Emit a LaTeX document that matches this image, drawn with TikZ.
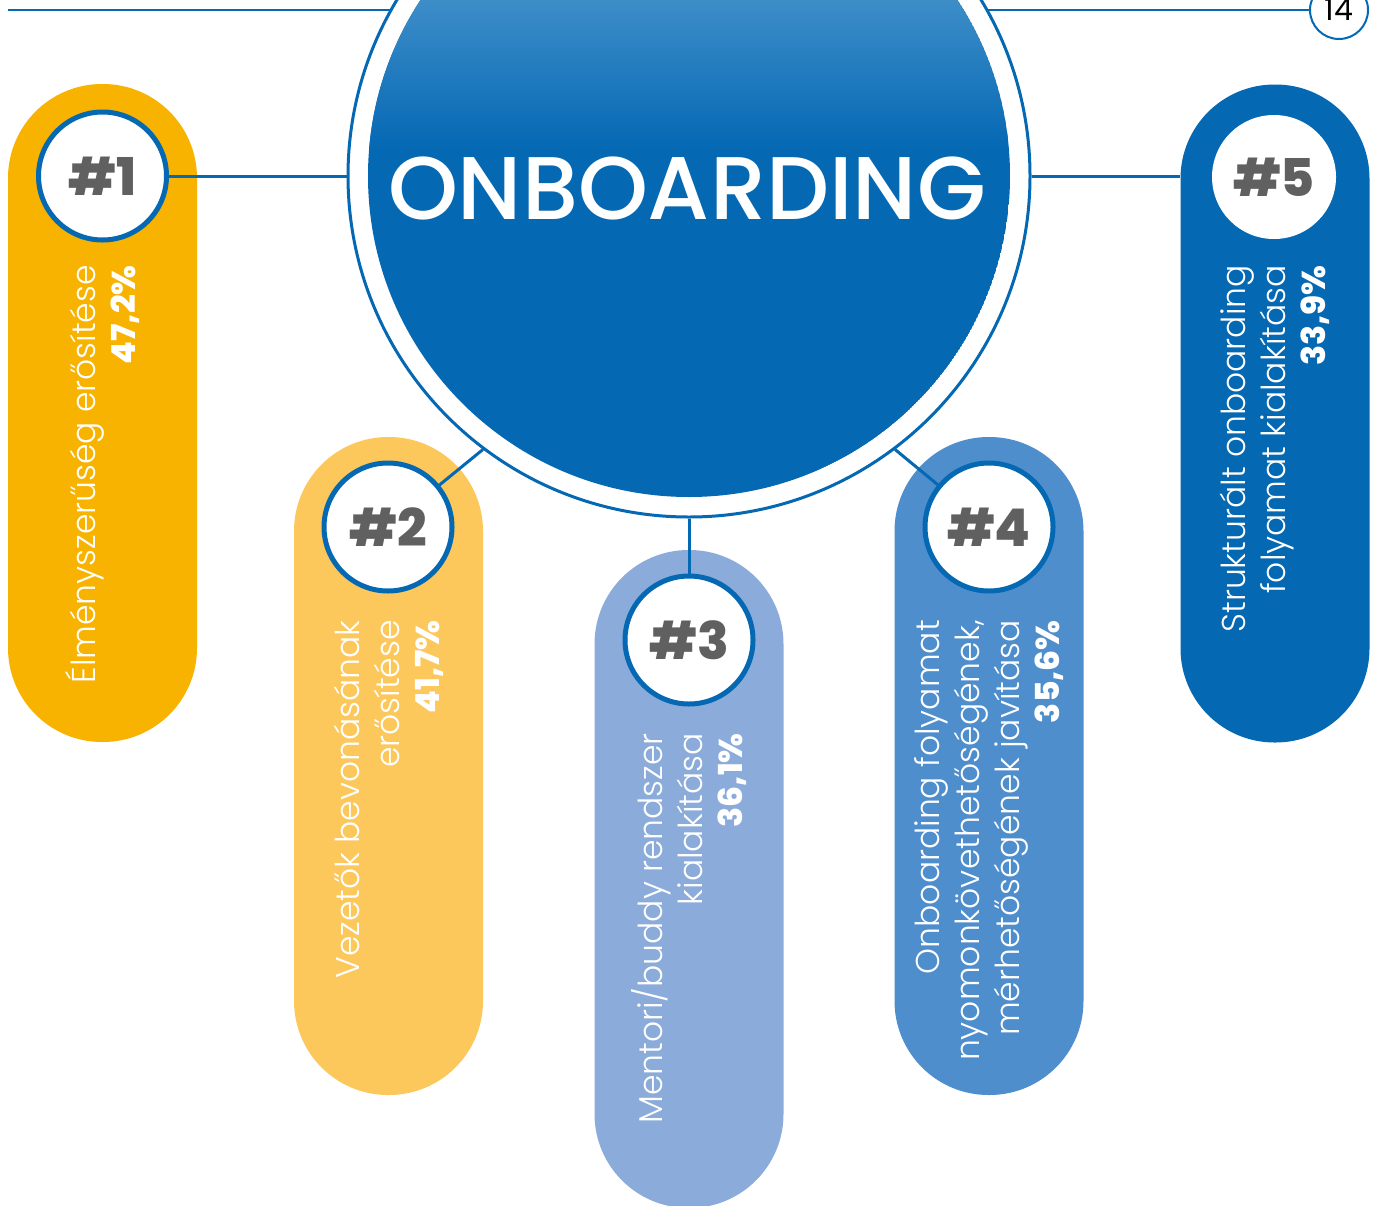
\documentclass[tikz,border=0pt]{standalone}
\usepackage{fontspec}
\setmainfont{Poppins}[UprightFont=* Light, BoldFont=* ExtraBold]
\newfontfamily\popmed{Poppins}[UprightFont=* Medium]
\newfontfamily\popreg{Poppins}
\newfontfamily\popxb{Poppins}[UprightFont=* ExtraBold]
\definecolor{mainblue}{HTML}{0468B3}
\definecolor{topblue}{HTML}{3D8DC8}
\definecolor{pillA}{HTML}{F8B300}
\definecolor{pillB}{HTML}{FDC85B}
\definecolor{pillC}{HTML}{8BACDA}
\definecolor{pillD}{HTML}{4F8ECC}
\definecolor{pillE}{HTML}{0468B3}
\definecolor{numgrey}{HTML}{606060}
\begin{document}
\begin{tikzpicture}[x=1pt,y=-1pt,
  conn/.style={draw=mainblue, line width=3pt},
  pill/.style={rectangle, rounded corners=94pt, minimum width=189pt,
    minimum height=658pt, inner sep=0pt},
  badge/.style={circle, fill=white, draw=mainblue, line width=5pt,
    minimum size=128pt, inner sep=0pt, text=numgrey,
    font=\popxb\fontsize{52}{52}\selectfont},
  desc/.style={rotate=90, anchor=east, align=right, text=white,
    inner sep=0pt, font=\fontsize{33}{40}\selectfont},
]
\useasboundingbox (0,0) rectangle (1375,1205);
\clip (0,0) rectangle (1375,1205);

% page header rule with page number
\node[circle, draw=mainblue, line width=2pt, minimum size=58pt, inner sep=0pt,
  font=\popreg\fontsize{30}{30}\selectfont] (pg) at (1339,10) {14};
\coordinate (ruleL) at (8,10);
\draw[mainblue, line width=2pt] (ruleL) -- (pg);

% central disk with its outer ring
\node[circle, draw=mainblue, fill=white, line width=3pt, minimum size=682pt,
  inner sep=0pt] (ring) at (689,176) {};
\begin{scope}
  \clip (689,176) circle (321);
  \fill[mainblue] (689,176) circle (321);
  \shade[top color=topblue, bottom color=mainblue] (300,0) rectangle (1100,150);
\end{scope}
\node[text=white, font=\popmed\fontsize{89}{89}\selectfont] (title) at (687,188) {ONBOARDING};

% pills
\node[pill, fill=pillA] (p1) at (102.5,413) {};
\node[pill, fill=pillB] (p2) at (388.5,766) {};
\node[pill, fill=pillC] (p3) at (689,879) {};
\node[pill, fill=pillD] (p4) at (989,766) {};
\node[pill, fill=pillE] (p5) at (1275,413.5) {};

% badges
\node[badge] (b1) at (102.5,176) {\#1};
\node[badge] (b2) at (388,527) {\#2};
\node[badge] (b3) at (689,640) {\#3};
\node[badge] (b4) at (989,527) {\#4};
\node[badge, draw=none, minimum size=124pt] (b5) at (1274,177) {\#5};

% connectors
\draw[conn] (b1) -- (ring.west);
\draw[conn] (b2) -- (ring.233);
\draw[conn] (b3) -- (ring.south);
\draw[conn] (b4) -- (ring.307);
\draw[conn] (ring.east) -- (ring.east -| p5.west);

% descriptions
\node[desc] (t1) at (102.5,265) {Élményszerűség erősítése\\\textbf{47,2\%}};
\node[desc] (t2) at (388.5,620) {Vezetők bevonásának\\erősítése\\\textbf{41,7\%}};
\node[desc] (t3) at (689,733) {Mentori/buddy rendszer\\kialakítása\\\textbf{36,1\%}};
\node[desc] (t4) at (989,620) {Onboarding folyamat\\nyomonkövethetőségének,\\mérhetőségének javítása\\\textbf{35,6\%}};
\node[desc] (t5) at (1275,265) {Strukturált onboarding\\folyamat kialakítása\\\textbf{33,9\%}};
\end{tikzpicture}
\end{document}
